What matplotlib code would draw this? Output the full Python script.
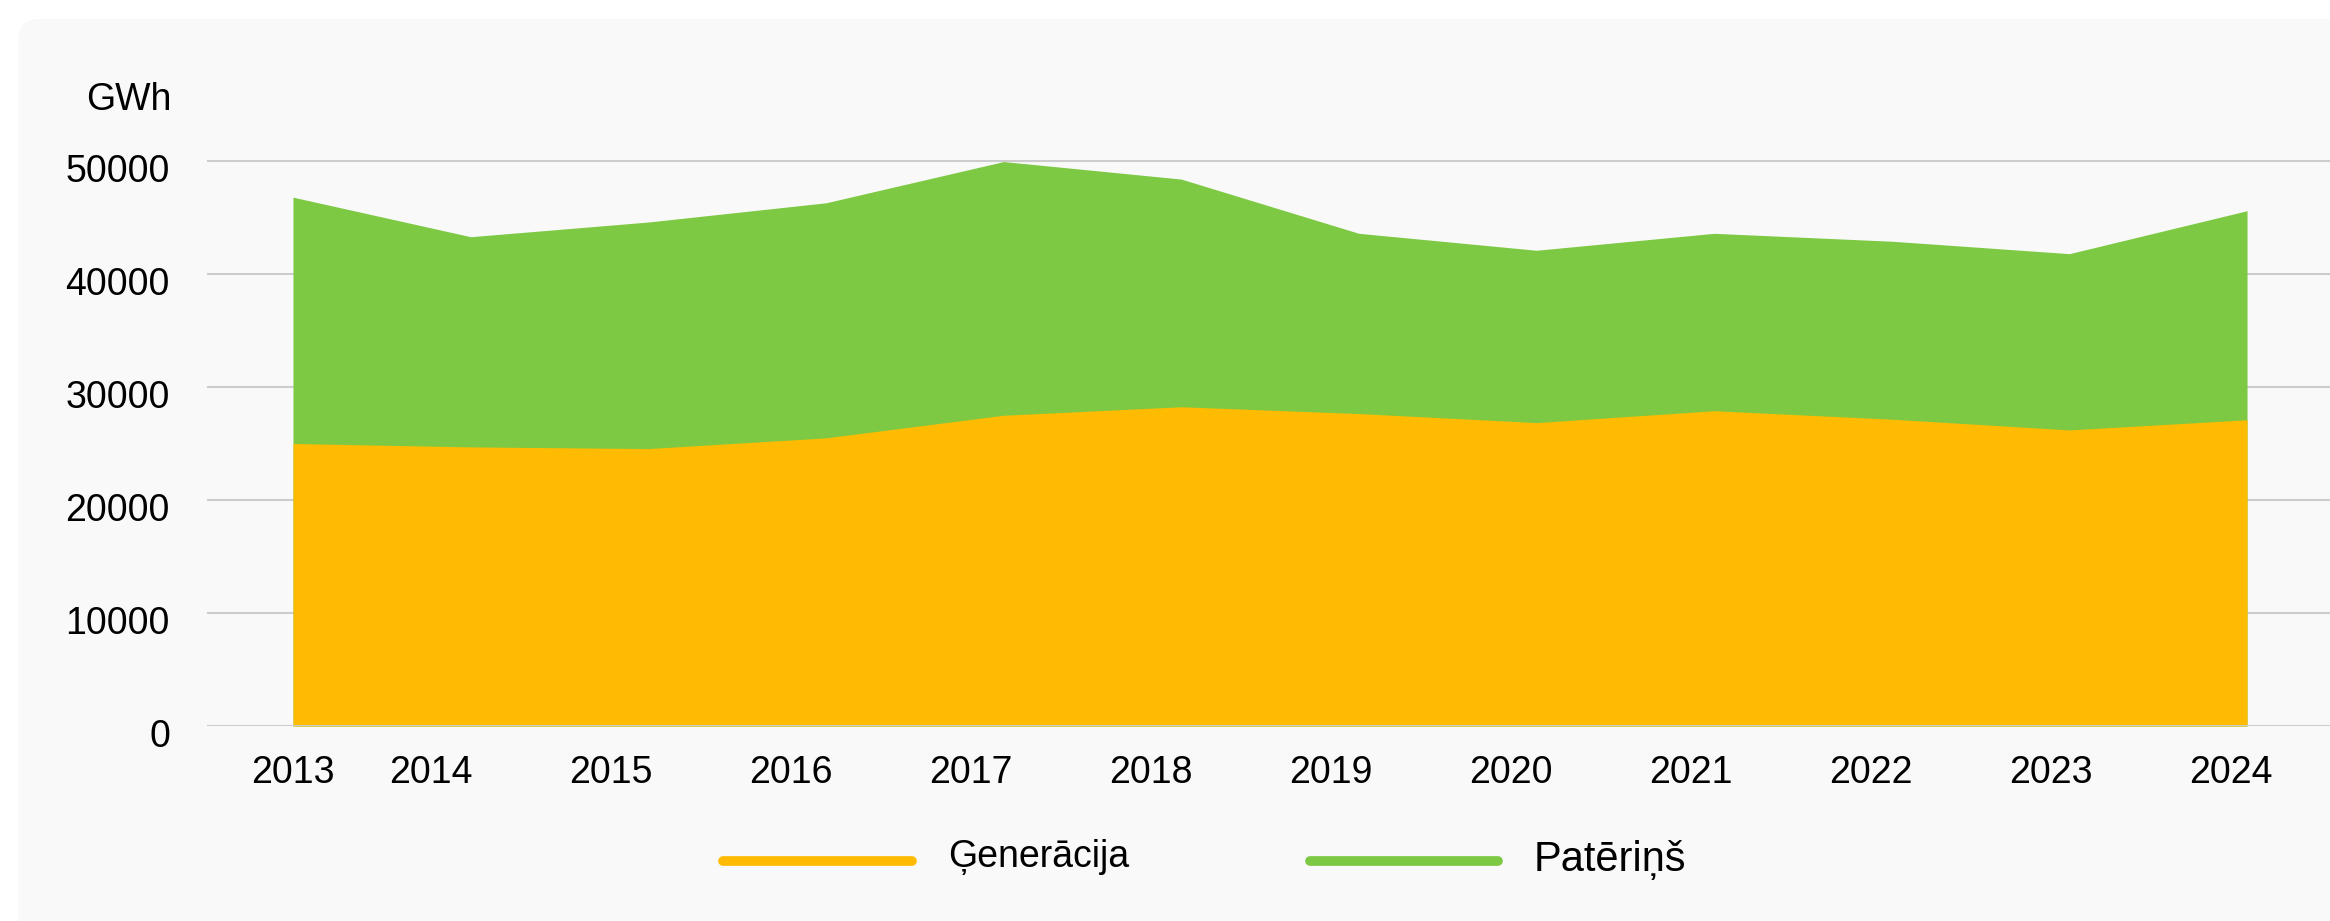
import matplotlib.pyplot as plt
from matplotlib.patches import FancyBboxPatch
from matplotlib.lines import Line2D
from matplotlib.transforms import IdentityTransform, offset_copy

plt.rcParams['font.family'] = ['Liberation Sans', 'DejaVu Sans']

# Data (GWh)
years = ['2013', '2014', '2015', '2016', '2017', '2018',
         '2019', '2020', '2021', '2022', '2023', '2024']
generation = [25000, 24700, 24550, 25500, 27500, 28250,
              27650, 26850, 27900, 27150, 26200, 27100]
consumption = [46800, 43300, 44600, 46300, 49950, 48400,
               43600, 42100, 43600, 42900, 41800, 45600]
yticks = [0, 10000, 20000, 30000, 40000, 50000]

GEN_COLOR = '#febb02'
CONS_COLOR = '#7dc943'
GRID_COLOR = '#cccccc'

W, H = 2330, 921
fig = plt.figure(figsize=(W / 100, H / 100), dpi=100, facecolor='white')

# Light rounded card behind the chart
card = FancyBboxPatch((18 + 22, -100), W + 200, H - 19 + 100 - 22,
                      boxstyle='round,pad=22,rounding_size=22',
                      transform=IdentityTransform(), facecolor='#f9f9f9',
                      edgecolor='none', zorder=-10)
fig.patches.append(card)

# Axes placed in pixel terms: left 207, right 2330, y=0 at 726, 50000 at 161
px_per_unit = (726 - 161) / 50000
y_top = 52000
left, bottom = 207 / W, (H - 726) / H
height = (y_top * px_per_unit) / H
ax = fig.add_axes([left, bottom, 1 - left, height])
ax.patch.set_alpha(0)

x = list(range(len(years)))
step = 177.64
x_lo = (207 - 293) / step
x_hi = (W - 293) / step

ax.fill_between(x, 0, consumption, color=CONS_COLOR, linewidth=0, zorder=2)
ax.fill_between(x, 0, generation, color=GEN_COLOR, linewidth=0, zorder=3)

ax.set_xlim(x_lo, x_hi)
ax.set_ylim(0, y_top)

# y labels drawn by hand so they can sit a bit below their gridlines
ax.set_yticks(yticks)
ax.set_yticklabels([])
ax.yaxis.grid(True, color=GRID_COLOR, linewidth=1.5, zorder=1)
ax.set_axisbelow(True)
ax.axhline(0, color=GRID_COLOR, linewidth=1.5, zorder=4)
ylab_tr = offset_copy(ax.get_yaxis_transform(), fig=fig, x=-37, y=-21, units='dots')
for v in yticks:
    ax.text(0, v, str(v), transform=ylab_tr, ha='right', va='baseline',
            fontsize=27, clip_on=False)

# year labels sit slightly off the data points
label_pos = [0] + [0.777 + 1.0133 * k for k in range(len(years) - 1)]
ax.set_xticks(label_pos)
ax.set_xticklabels(years)

ax.tick_params(axis='both', length=0, labelsize=27, labelcolor='black')
ax.tick_params(axis='x', pad=21)
for s in ax.spines.values():
    s.set_visible(False)

# unit label
fig.text(172 / W, 1 - 110 / H, 'GWh', ha='right', va='baseline', fontsize=27)

# legend drawn by hand
leg_y = 1 - 861 / H
fig.add_artist(Line2D([723 / W, 912 / W], [leg_y, leg_y], color=GEN_COLOR,
                      linewidth=7, solid_capstyle='round'))
fig.text(948 / W, 1 - 867 / H, 'Ģenerācija', ha='left', va='baseline', fontsize=27)
fig.add_artist(Line2D([1310 / W, 1498 / W], [leg_y, leg_y], color=CONS_COLOR,
                      linewidth=7, solid_capstyle='round'))
fig.text(1534 / W, 1 - 871 / H, 'Patēriņš', ha='left', va='baseline', fontsize=30)

fig.savefig('out.png', dpi=100, facecolor='white')
